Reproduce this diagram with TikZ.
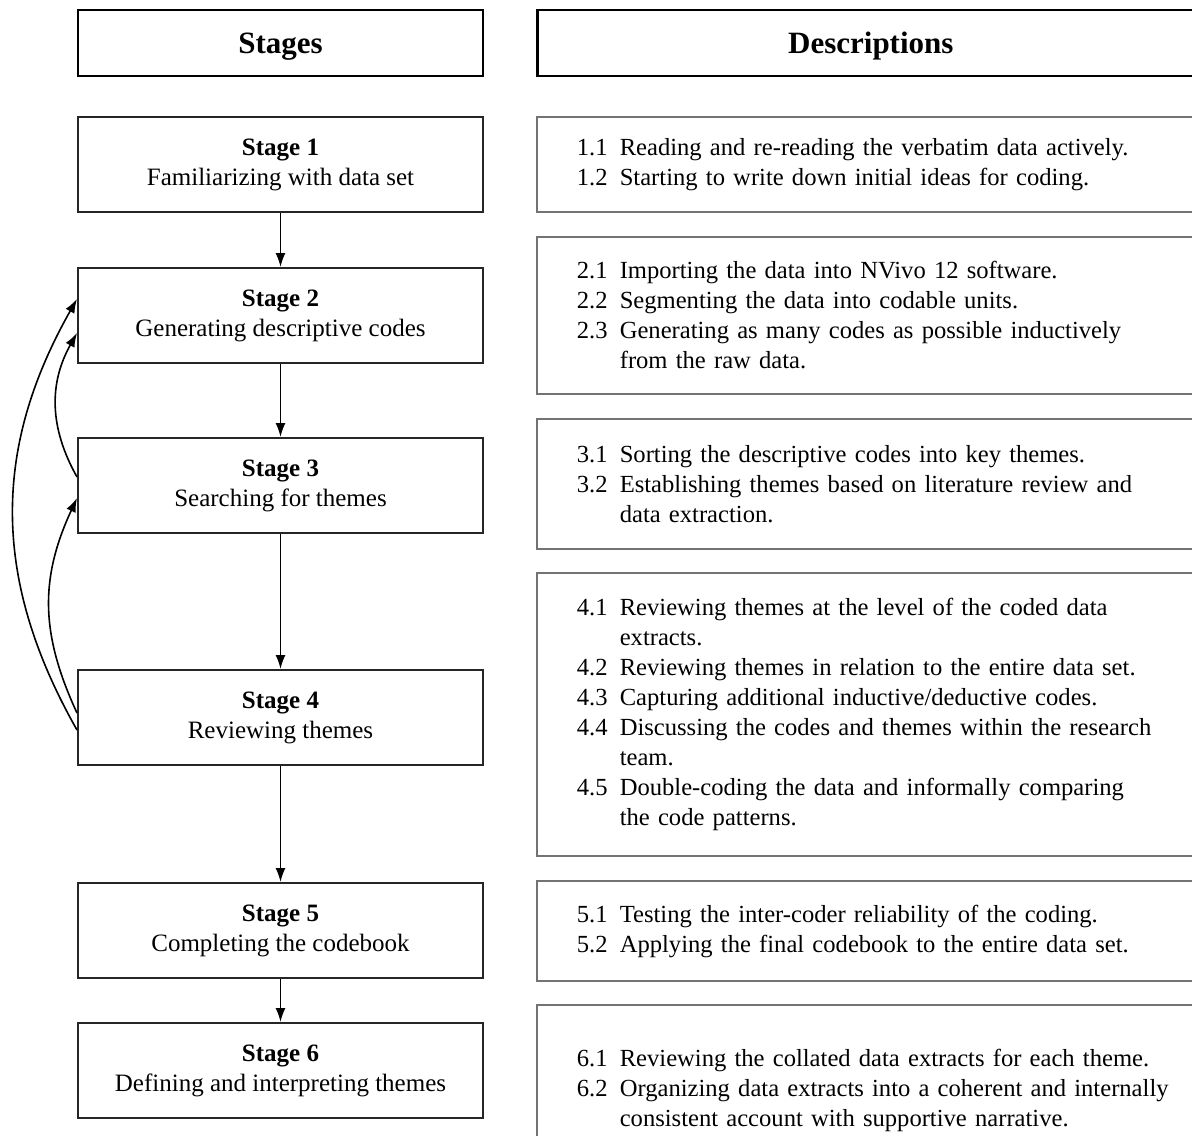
\documentclass[tikz,border=0pt]{standalone}
\usepackage{fontspec}
\setmainfont{Liberation Serif}
\usetikzlibrary{arrows.meta,positioning}

\newcommand{\itm}[1]{\makebox[21.5pt][l]{#1}}
\newcommand{\cont}{\hspace*{21.5pt}}

\begin{document}
\begin{tikzpicture}[
    x=0.5pt,y=-0.5pt,
    head/.style={draw,line width=1.4pt,minimum height=33pt,inner sep=0pt,
                 font=\fontsize{15.5}{18}\selectfont\bfseries},
    stagebox/.style={draw=black!85,line width=1pt,minimum width=202.5pt,
                     minimum height=47.5pt,inner sep=0pt,align=center,
                     font=\fontsize{12.5}{15}\selectfont},
    descbox/.style={draw=black!55,line width=0.8pt,text width=310pt,
                    inner xsep=20pt,inner ysep=0pt,align=left,
                    font=\fontsize{12.3}{15}\selectfont},
    arr/.style={-{Latex[length=7pt,width=5pt]},line width=0.8pt},
  ]
    \clip[use as bounding box] (0,0) rectangle (1192,1135);
    % column heads
    \node[head,minimum width=202.5pt] (hs) at (280.5,43) {\raisebox{-5pt}[0pt][0pt]{Stages}};
    \node[head,minimum width=333pt,right=26pt of hs] (hd) {\raisebox{-5pt}[0pt][0pt]{Descriptions}};
    % stages
    \node[stagebox,below=19.3pt of hs](s1){\textbf{Stage 1}\\Familiarizing with data set};
    \node[stagebox,below=27pt of s1](s2){\textbf{Stage 2}\\Generating descriptive codes};
    \node[stagebox,below=36.5pt of s2](s3){\textbf{Stage 3}\\Searching for themes};
    \node[stagebox,below=67.5pt of s3](s4){\textbf{Stage 4}\\Reviewing themes};
    \node[stagebox,below=58pt of s4](s5){\textbf{Stage 5}\\Completing the codebook};
    \node[stagebox,below=21.5pt of s5](s6){\textbf{Stage 6}\\Defining and interpreting themes};
    % descriptions
    \node[descbox,minimum height=47.5pt,right=26pt of s1](d1){%
      \itm{1.1}Reading and re-reading the verbatim data actively.\\
      \itm{1.2}Starting to write down initial ideas for coding.};
    \node[descbox,minimum height=78.5pt,below=11.7pt of d1](d2){%
      \itm{2.1}Importing the data into NVivo 12 software.\\
      \itm{2.2}Segmenting the data into codable units.\\
      \itm{2.3}Generating as many codes as possible inductively\\
      \cont from the raw data.};
    \node[descbox,minimum height=65pt,below=11.7pt of d2](d3){%
      \itm{3.1}Sorting the descriptive codes into key themes.\\
      \itm{3.2}Establishing themes based on literature review and\\
      \cont data extraction.};
    \node[descbox,minimum height=141.5pt,below=11.2pt of d3](d4){%
      \itm{4.1}Reviewing themes at the level of the coded data\\
      \cont extracts.\\
      \itm{4.2}Reviewing themes in relation to the entire data set.\\
      \itm{4.3}Capturing additional inductive/deductive codes.\\
      \itm{4.4}Discussing the codes and themes within the research\\
      \cont team.\\
      \itm{4.5}Double-coding the data and informally comparing\\
      \cont the code patterns.};
    \node[descbox,minimum height=50pt,below=11.7pt of d4](d5){%
      \itm{5.1}Testing the inter-coder reliability of the coding.\\
      \itm{5.2}Applying the final codebook to the entire data set.};
    \node[descbox,minimum height=85pt,below=11.2pt of d5](d6){%
      \itm{6.1}Reviewing the collated data extracts for each theme.\\
      \itm{6.2}Organizing data extracts into a coherent and internally\\
      \cont consistent account with supportive narrative.};
    % flow
    \draw[arr](s1.south)--(s2.north); \draw[arr](s2.south)--(s3.north);
    \draw[arr](s3.south)--(s4.north); \draw[arr](s4.south)--(s5.north);
    \draw[arr](s5.south)--(s6.north);
    % feedback loops
    \draw[arr]([yshift=-6.25pt]s4.west) .. controls +(-85,-150) and +(-85,150) .. ([yshift=8.25pt]s2.west);
    \draw[arr]([yshift=2.25pt]s4.west) .. controls +(-37,-80) and +(-37,80) .. ([yshift=-6.25pt]s3.west);
    \draw[arr]([yshift=4.25pt]s3.west) .. controls +(-28,-50) and +(-28,50) .. ([yshift=-8.75pt]s2.west);
  \end{tikzpicture}
\end{document}
